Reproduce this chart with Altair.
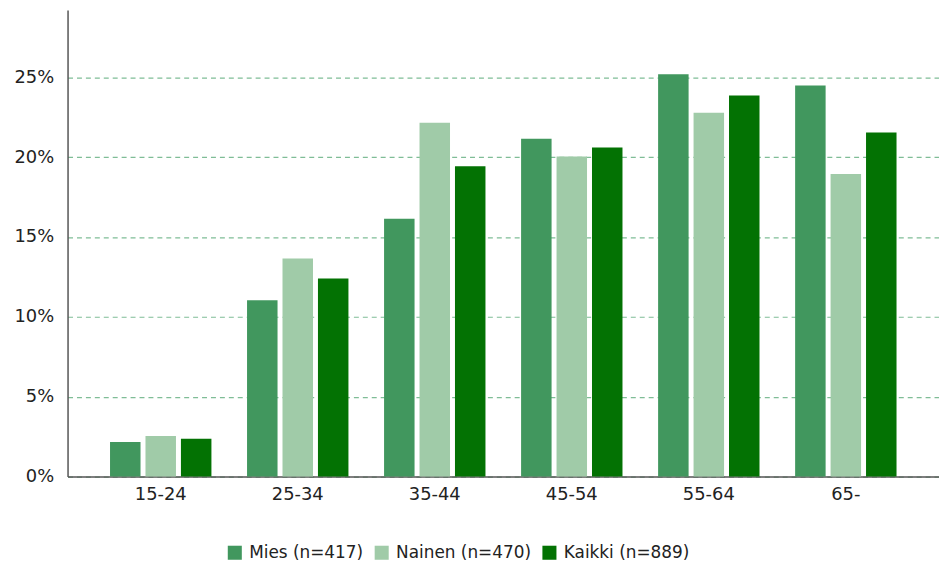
import altair as alt
import pandas as pd

categories = ["15-24", "25-34", "35-44", "45-54", "55-64", "65-"]
series = ["Mies (n=417)", "Nainen (n=470)", "Kaikki (n=889)"]
mies = [2.17, 11.04, 16.13, 21.15, 25.19, 24.48]
nainen = [2.54, 13.65, 22.15, 20.04, 22.77, 18.94]
kaikki = [2.36, 12.40, 19.42, 20.60, 23.86, 21.53]
colors = ["#41975e", "#a0cba8", "#037203"]

rows = []
for vals, s in zip([mies, nainen, kaikki], series):
    for c, v in zip(categories, vals):
        rows.append({"ika": c, "sarja": s, "arvo": v / 100})
df = pd.DataFrame(rows)

chart = alt.Chart(df).mark_bar().encode(
    x=alt.X("ika:N", sort=categories, title=None,
            scale=alt.Scale(paddingInner=0.26, paddingOuter=0.31),
            axis=alt.Axis(labelAngle=0, ticks=False, domainColor="#555555",
                          labelFontSize=18, labelColor="#222222", labelPadding=9,
                          grid=False, domainWidth=1.5)),
    xOffset=alt.XOffset("sarja:N", sort=series, scale=alt.Scale(paddingInner=0.14)),
    y=alt.Y("arvo:Q", title=None,
            scale=alt.Scale(domain=[0, 0.292], nice=False),
            axis=alt.Axis(format=".0%", values=[0, 0.05, 0.10, 0.15, 0.20, 0.25],
                          ticks=False, domainColor="#555555", domainWidth=1.5,
                          labelFontSize=18, labelColor="#222222", labelPadding=14,
                          gridColor="#7fbd96", gridDash=[5, 4], gridWidth=1.2)),
    color=alt.Color("sarja:N", sort=series,
                    scale=alt.Scale(domain=series, range=colors),
                    legend=alt.Legend(title=None, orient="none", direction="horizontal",
                                      legendX=160, legendY=538,
                                      symbolType="square", symbolSize=200,
                                      symbolStrokeWidth=0, labelFontSize=17,
                                      labelColor="#222222", columnPadding=10,
                                      labelOffset=6)),
).properties(
    width=878, height=470,
    padding={"left": 5, "top": 0, "right": 0, "bottom": 0},
).configure(font="DejaVu Sans").configure_view(stroke=None)

chart.save("out.html", embed_options={"renderer": "svg", "actions": False})
